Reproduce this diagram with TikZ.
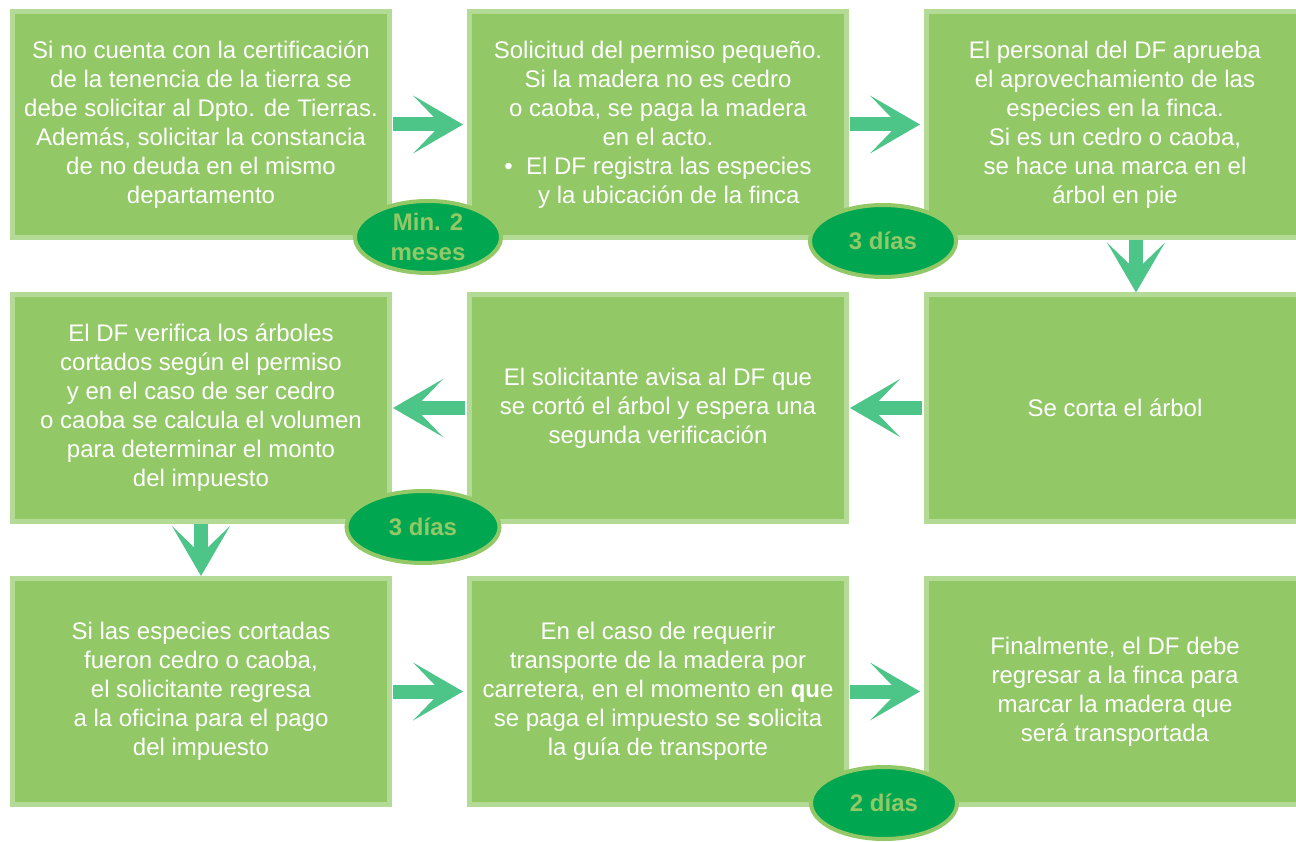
\documentclass[tikz,border=0pt]{standalone}
\usepackage{fontspec}
\setmainfont{Liberation Sans}
\usetikzlibrary{arrows.meta, positioning, calc, shapes.geometric}
\definecolor{leaf}{HTML}{93C867}
\definecolor{leafedge}{HTML}{B4DB96}
\definecolor{forest}{HTML}{00A650}
\definecolor{mint}{HTML}{4DC488}

\begin{document}
\begin{tikzpicture}[
  every node/.style={text=white, font=\fontsize{13.66}{16.5}\selectfont},
  stage/.style={draw=leafedge, fill=leaf, line width=0.1cm, minimum width=7.54cm,
    minimum height=4.52cm, align=center, inner sep=0pt},
  badge/.style={ellipse, draw=leaf, fill=forest, line width=0.08cm,
    minimum width=2.92cm, minimum height=1.44cm},
  badgetext/.style={text=leaf, font=\fontsize{13.66}{17}\selectfont\bfseries, align=center},
  flow/.style={draw=mint, line width=0.28cm,
    -{Stealth[length=1cm, width=1.16cm, inset=0.56cm, line width=0pt]}},
]

\useasboundingbox (0,0) rectangle (25.92,16.82);

% First row
\node[stage] (s1) at (4.02,14.33) {Si no cuenta con la certificación\\de la tenencia de la tierra se\\debe solicitar al Dpto. de Tierras.\\Además, solicitar la constancia\\de no deuda en el mismo\\departamento};
\node[stage] (s2) at (13.16,14.33) {Solicitud del permiso pequeño.\\Si la madera no es cedro\\o caoba, se paga la madera\\en el acto.\\\textbullet\ \ El DF registra las especies\\\phantom{\textbullet\ \ }y la ubicación de la finca};
\node[stage] (s3) at (22.30,14.33) {El personal del DF aprueba\\el aprovechamiento de las\\especies en la finca.\\Si es un cedro o caoba,\\se hace una marca en el\\árbol en pie};

% Second row
\node[stage] (s4) at (4.02,8.66) {El DF verifica los árboles\\cortados según el permiso\\y en el caso de ser cedro\\o caoba se calcula el volumen\\para determinar el monto\\del impuesto};
\node[stage] (s5) at (13.16,8.66) {El solicitante avisa al DF que\\se cortó el árbol y espera una\\segunda verificación};
\node[stage] (s6) at (22.30,8.66) {Se corta el árbol};

% Third row
\node[stage] (s7) at (4.02,2.99) {Si las especies cortadas\\fueron cedro o caoba,\\el solicitante regresa\\a la oficina para el pago\\del impuesto};
\node[stage] (s8) at (13.16,2.99) {En el caso de requerir\\transporte de la madera por\\carretera, en el momento en \textbf{qu}e\\se paga el impuesto se \textbf{s}olicita\\la guía de transporte};
\node[stage] (s9) at (22.30,2.99) {Finalmente, el DF debe\\regresar a la finca para\\marcar la madera que\\será transportada};

% Arrows
\draw[flow, shorten <=0.02cm, shorten >=0.08cm] (s1) -- (s2);
\draw[flow, shorten <=0.02cm, shorten >=0.08cm] (s2) -- (s3);
\draw[flow] ([xshift=0.42cm]s3.south) -- ([xshift=0.42cm]s6.north);
\draw[flow, shorten <=0.04cm, shorten >=0.02cm] (s6) -- (s5);
\draw[flow, shorten <=0.04cm, shorten >=0.02cm] (s5) -- (s4);
\draw[flow] (s4.south) -- (s7.north);
\draw[flow, shorten <=0.02cm, shorten >=0.08cm] (s7) -- (s8);
\draw[flow, shorten <=0.02cm, shorten >=0.08cm] (s8) -- (s9);

% Time badges
\node[badge] (t1) at (8.56,12.08) {};
\node[badgetext] at (t1) {Min. 2\\meses};
\node[badge] (t2) at (17.66,12.0) {};
\node[badgetext] at (t2) {3 días};
\node[badge, minimum width=3.06cm] (t3) at (8.46,6.28) {};
\node[badgetext] at (t3) {3 días};
\node[badge] (t4) at (17.68,0.76) {};
\node[badgetext] at (t4) {2 días};

\end{tikzpicture}
\end{document}
